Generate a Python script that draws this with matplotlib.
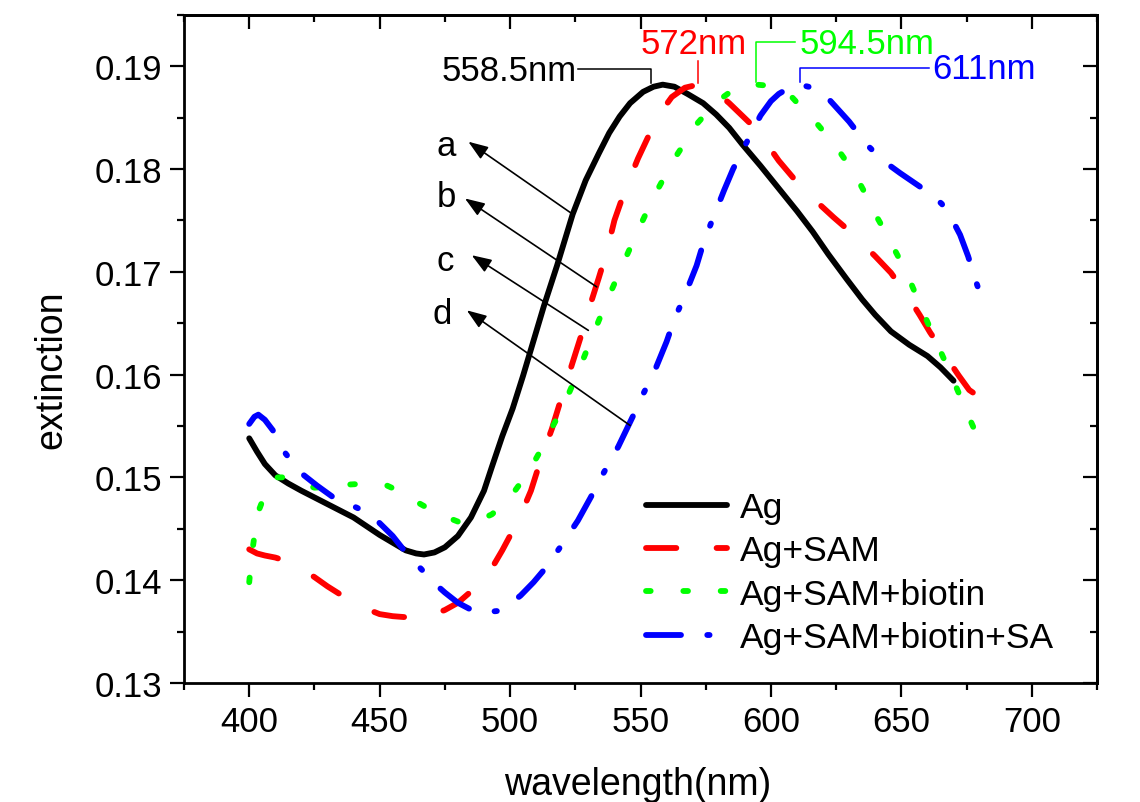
import matplotlib
matplotlib.use("Agg")
import matplotlib.pyplot as plt
from matplotlib.ticker import MultipleLocator, FormatStrFormatter

plt.rcParams['font.family'] = ['Liberation Sans', 'DejaVu Sans']

# ---------------- data ----------------
ag_x = [400, 403, 406, 410, 415, 420, 430, 440, 450, 460, 464, 467, 471, 475, 480, 485, 490, 493, 497,
        501, 505, 509, 513, 518, 524, 529, 534, 538, 542, 546, 551, 555, 558.5, 563, 568, 574,
        579, 584, 589, 596, 603, 610, 616, 622, 629, 635, 640, 646, 653, 660, 665, 670]
ag_y = [0.1538, 0.1525, 0.1513, 0.1502, 0.1494, 0.1487, 0.1474, 0.1461, 0.1444, 0.1429, 0.1426, 0.1425,
        0.1427, 0.1432, 0.1443, 0.1461, 0.1487, 0.1510, 0.1540, 0.1567, 0.1599, 0.1633, 0.1667, 0.1706,
        0.1756, 0.1789, 0.1815, 0.1835, 0.1851, 0.1864, 0.1875, 0.1880, 0.1882, 0.1880, 0.1873,
        0.1864, 0.1853, 0.1840, 0.1824, 0.1803, 0.1781, 0.1759, 0.1739, 0.1717, 0.1693, 0.1673,
        0.1658, 0.1642, 0.1629, 0.1618, 0.1607, 0.1594]

sam_x = [400, 403, 406, 410, 415, 420, 425, 430, 435, 440, 445, 450, 455, 460, 465, 470, 475,
         480, 485, 490, 494, 497, 501, 504, 508, 512, 516, 520, 523, 527, 530, 534, 537, 540,
         544, 549, 554, 558, 562, 567, 572, 578, 584, 593, 598, 603, 608, 612, 618, 624, 629,
         634, 640, 646, 653, 657, 661, 665, 668, 672, 676, 680]
sam_y = [0.1430, 0.1426, 0.1424, 0.1422, 0.1418, 0.1411, 0.1403, 0.1394, 0.1386, 0.1378, 0.1372,
         0.1367, 0.1365, 0.1364, 0.1364, 0.1366, 0.1371, 0.1378, 0.1389, 0.1403, 0.1416, 0.1429,
         0.1448, 0.1463, 0.1487, 0.1519, 0.1547, 0.1580, 0.1604, 0.1636, 0.1662, 0.1694, 0.1719,
         0.1750, 0.1779, 0.1810, 0.1837, 0.1856, 0.1870, 0.1879, 0.1882, 0.1877, 0.1864, 0.1842,
         0.1826, 0.1808, 0.1793, 0.1781, 0.1767, 0.1753, 0.1742, 0.1730, 0.1715, 0.1699, 0.1674,
         0.1658, 0.1641, 0.1626, 0.1614, 0.1599, 0.1585, 0.1578]

biotin_x = [400, 401, 402.5, 404, 407, 410, 414, 420, 425, 431, 438, 445, 452, 458, 465, 472,
            480, 487, 493, 499, 505, 509, 513, 516, 520, 526, 531.5, 537, 543, 549, 555.5, 563,
            572, 579, 585, 590, 594.5, 599, 603, 608, 612, 618, 624, 629, 633, 637, 640, 644,
            647.5, 651, 654, 657, 660, 663, 666, 669, 672, 676, 680]
biotin_y = [0.1398, 0.1425, 0.1452, 0.1470, 0.1490, 0.1500, 0.1500, 0.1494, 0.1490, 0.1491,
            0.1493, 0.1494, 0.1493, 0.1486, 0.1475, 0.1465, 0.1457, 0.1457, 0.1464, 0.1477,
            0.1498, 0.1514, 0.1532, 0.1548, 0.1567, 0.1602, 0.1637, 0.1671, 0.1706, 0.1740,
            0.1775, 0.1810, 0.1845, 0.1865, 0.1876, 0.1881, 0.1882, 0.1881, 0.1878, 0.1870,
            0.1859, 0.1843, 0.1825, 0.1807, 0.1791, 0.1772, 0.1756, 0.1738, 0.1721, 0.1704,
            0.1687, 0.1669, 0.1651, 0.1634, 0.1617, 0.1600, 0.1582, 0.1558, 0.1535]

sa_x = [400, 402, 403.5, 406, 409, 414, 420, 426, 432, 440, 445, 449, 455, 460, 464, 467, 471,
        475, 480, 486, 491, 495, 500, 504, 509, 514, 520, 526, 531, 536, 541.5, 547, 551, 555,
        560, 563, 566.5, 571.5, 574, 577, 582, 585.5, 589.5, 596, 600, 603, 607, 611, 616,
        622.5, 630, 637, 643, 649.5, 657, 662, 665.5, 669, 672.5, 675.6, 678, 680]
sa_y = [0.1552, 0.1559, 0.1561, 0.1556, 0.1546, 0.1523, 0.1504, 0.1492, 0.1481, 0.1472, 0.1466,
        0.1458, 0.1443, 0.1427, 0.1416, 0.1408, 0.1397, 0.1388, 0.1378, 0.1370, 0.1369, 0.1370,
        0.1377, 0.1385, 0.1398, 0.1413, 0.1435, 0.1458, 0.1481, 0.1505, 0.1530, 0.1559, 0.1581,
        0.1601, 0.1632, 0.1654, 0.1674, 0.1706, 0.1727, 0.1747, 0.1779, 0.1800, 0.1820, 0.1852,
        0.1866, 0.1873, 0.1879, 0.1882, 0.1879, 0.1867, 0.1846, 0.1823, 0.1808, 0.1796, 0.1783,
        0.1774, 0.1766, 0.1753, 0.1736, 0.1715, 0.1695, 0.1680]

series_labels = ["Ag", "Ag+SAM", "Ag+SAM+biotin", "Ag+SAM+biotin+SA"]
peak_labels = ["558.5nm", "572nm", "594.5nm", "611nm"]
curve_letters = ["a", "b", "c", "d"]
x_ticks = [400, 450, 500, 550, 600, 650, 700]
y_ticks = [0.13, 0.14, 0.15, 0.16, 0.17, 0.18, 0.19]

# ---------------- figure ----------------
fig = plt.figure(figsize=(11.4, 8.03), dpi=100)
ax = fig.add_axes([0.1614, 0.1482, 0.8009, 0.8322])

LW = 4.2
ax.plot(ag_x, ag_y, color='black', lw=LW, solid_capstyle='round', solid_joinstyle='round',
        label=series_labels[0])
ax.plot(sam_x, sam_y, color='#ff0000', lw=LW, dashes=(5.2, 6.9), dash_capstyle='round',
        label=series_labels[1])
ax.plot(biotin_x, biotin_y, color='#00ff00', lw=LW, dashes=(0.8, 5.6), dash_capstyle='round',
        label=series_labels[2])
ax.plot(sa_x, sa_y, color='#0000ff', lw=LW, dashes=(6.0, 4.5, 0.4, 4.5), dash_capstyle='round',
        label=series_labels[3])

ax.set_xlim(375, 725)
ax.set_ylim(0.13, 0.195)
ax.set_xticks(x_ticks)
ax.set_yticks(y_ticks)
ax.xaxis.set_minor_locator(MultipleLocator(25))
ax.yaxis.set_minor_locator(MultipleLocator(0.005))
ax.yaxis.set_major_formatter(FormatStrFormatter('%.2f'))
ax.tick_params(which='major', direction='out', length=10, width=1.6, labelsize=25, pad=6)
ax.tick_params(which='minor', direction='out', length=5, width=1.6)
for s in ax.spines.values():
    s.set_linewidth(2.0)

# mirrored inward ticks on top/right
secx = ax.secondary_xaxis('top')
secx.set_xticks(x_ticks)
secx.xaxis.set_minor_locator(MultipleLocator(25))
secx.tick_params(which='major', direction='in', length=10, width=1.6, labeltop=False)
secx.tick_params(which='minor', direction='in', length=5, width=1.6)
secx.spines['top'].set_linewidth(2.0)
secy = ax.secondary_yaxis('right')
secy.set_yticks(y_ticks)
secy.yaxis.set_minor_locator(MultipleLocator(0.005))
secy.tick_params(which='major', direction='in', length=10, width=1.6, labelright=False)
secy.tick_params(which='minor', direction='in', length=5, width=1.6)
secy.spines['right'].set_linewidth(2.0)

ax.set_xlabel('wavelength(nm)', fontsize=27)
ax.set_ylabel('extinction', fontsize=27)
ax.xaxis.set_label_coords(0.497, -0.124)
ax.yaxis.set_label_coords(-0.125, 0.47)

# legend
ax.legend(loc='upper left', bbox_to_anchor=(0.506, 0.287), frameon=False, fontsize=25.5,
          handlelength=2.3, handletextpad=0.35, labelspacing=0.29, borderpad=0,
          borderaxespad=0)

# peak labels with connectors
ax.text(525.6, 0.18954, peak_labels[0], color='black', fontsize=25, ha='right', va='center')
ax.plot([526.0, 553.9, 553.9], [0.18969, 0.18969, 0.18833], color='black', lw=1.1)

ax.text(570.5, 0.1922, peak_labels[1], color='#ff0000', fontsize=25, ha='center', va='center')
ax.plot([572.2, 572.2], [0.1905, 0.18833], color='#ff0000', lw=1.1)

ax.text(611.0, 0.1922, peak_labels[2], color='#00ff00', fontsize=25, ha='left', va='center')
ax.plot([609.4, 594.2, 594.2], [0.19238, 0.19238, 0.18849], color='#00ff00', lw=1.1)

ax.text(661.9, 0.18978, peak_labels[3], color='#0000ff', fontsize=25, ha='left', va='center')
ax.plot([660.7, 611.2, 611.2], [0.18985, 0.18985, 0.18849], color='#0000ff', lw=1.1)

# a-d arrows
letter_pos = [(475.7, 0.18232), (475.7, 0.17729), (475.0, 0.17112), (473.8, 0.16593)]
heads = [(484.0, 0.18265), (482.7, 0.17713), (485.3, 0.17161), (483.4, 0.16625)]
tails = [(523.6, 0.17567), (533.2, 0.16853), (530.0, 0.16430), (546.0, 0.15505)]
for lab, tp, hd, tl in zip(curve_letters, letter_pos, heads, tails):
    ax.text(tp[0], tp[1], lab, fontsize=25, ha='center', va='center')
    ax.annotate('', xy=hd, xytext=tl,
                arrowprops=dict(arrowstyle='-|>,head_length=0.6,head_width=0.22',
                                color='black', lw=1.2, mutation_scale=20,
                                shrinkA=0, shrinkB=0))

fig.savefig('out.png', dpi=100)
